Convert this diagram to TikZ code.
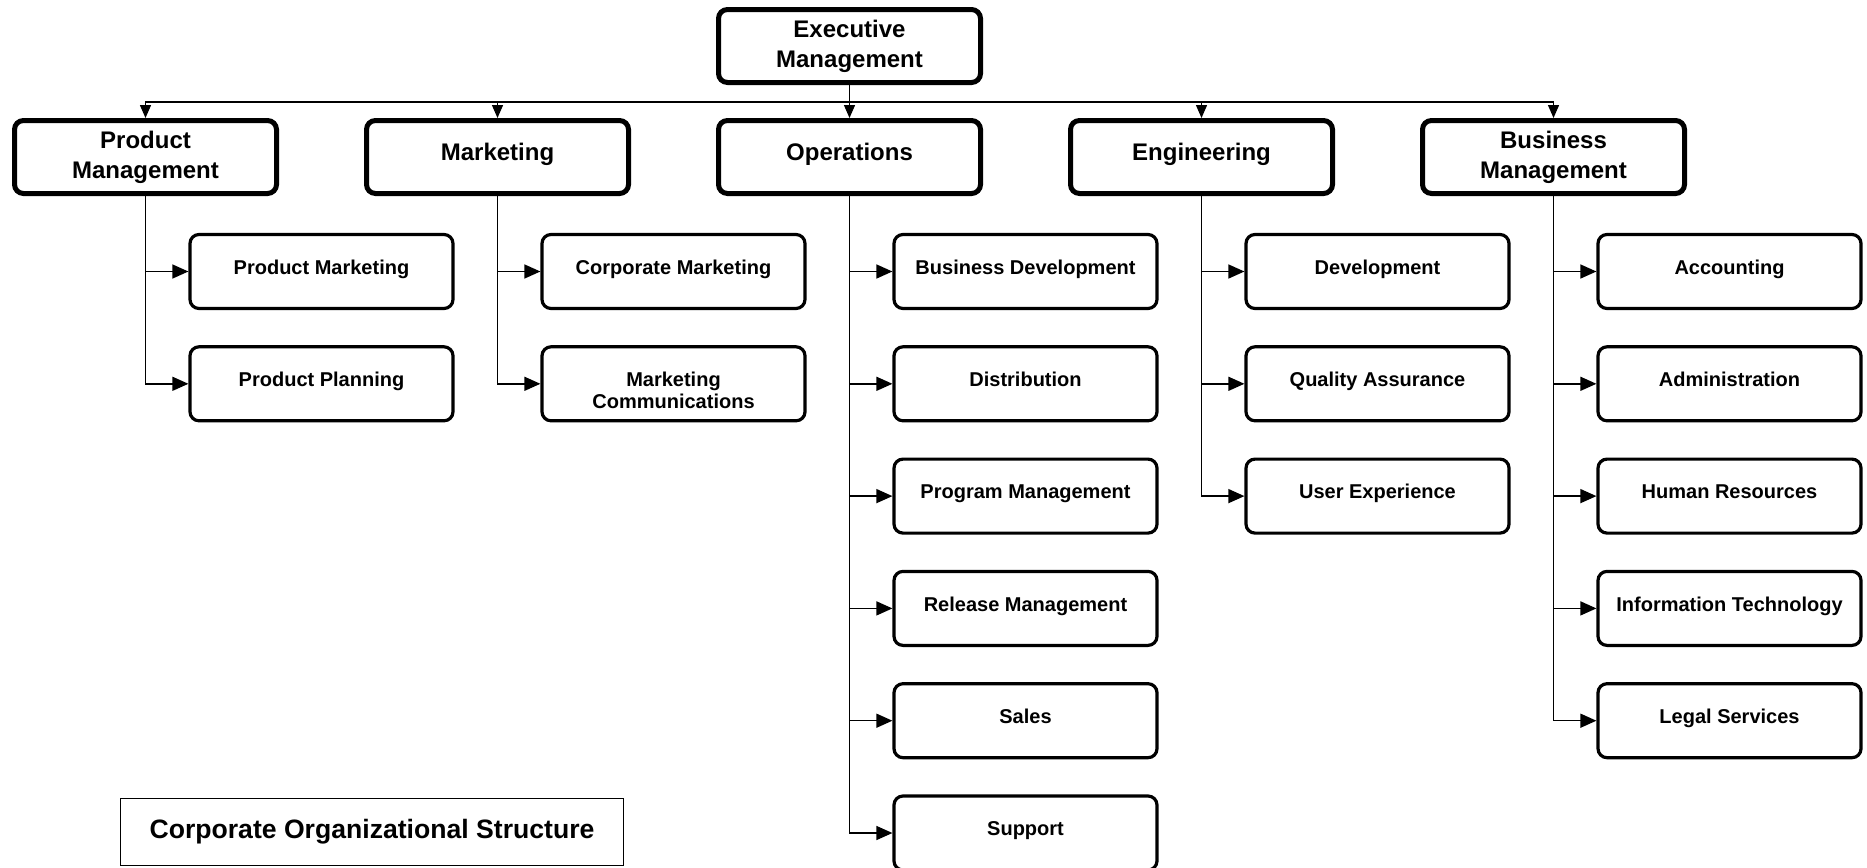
\documentclass[tikz,border=0pt]{standalone}
\usepackage{fontspec}
\setmainfont{Liberation Sans}
\usetikzlibrary{arrows.meta}

\begin{document}
\begin{tikzpicture}[x=0.5pt,y=-0.5pt,
  unitbox/.style={draw, fill=white, rounded corners=4.5pt, inner sep=0pt},
  dept/.style={unitbox, line width=2.5pt, minimum width=131pt, minimum height=36.5pt,
    font=\fontsize{12}{14.9}\selectfont\bfseries},
  deptone/.style={dept, text height=9pt, text depth=5.4pt},
  depttwo/.style={dept, align=center},
  team/.style={unitbox, line width=1.6pt, minimum width=131.5pt, minimum height=37pt,
    font=\fontsize{10}{11.35}\selectfont\bfseries},
  teamone/.style={team, text height=8pt, text depth=5.2pt},
  caption/.style={draw, fill=white, line width=0.7pt, inner sep=0pt,
    minimum width=251.4pt, minimum height=33.3pt,
    font=\fontsize{13.3}{16}\selectfont\bfseries},
  link/.style={line width=0.7pt},
  down/.style={link, -{Triangle[length=6.5pt,width=5.5pt]}},
  side/.style={link, -{Triangle[length=8pt,width=7pt]}},
]
% page area
\fill[white] (0,0) rectangle (1867,867);
\useasboundingbox (0,0) rectangle (1867,867);

% top level
\node[depttwo] (exec) at (849.5,46) {Executive\\Management};

% departments
\node[depttwo] (prodmgmt) at (145.5,157) {Product\\Management};
\node[deptone] (mkt) at (497.5,157) {Marketing};
\node[deptone] (ops) at (849.5,157) {Operations};
\node[deptone] (eng) at (1201.5,157) {Engineering};
\node[depttwo] (bizmgmt) at (1553.5,157) {Business\\Management};

% product management teams
\node[teamone] (prodmkt) at (321.5,271.5) {Product Marketing};
\node[teamone] (prodplan) at (321.5,383.8) {Product Planning};

% marketing teams
\node[teamone] (corpmkt) at (673.5,271.5) {Corporate Marketing};
\node[team] (mktcomm) at (673.5,383.8)
  {\raisebox{-4.6pt}[\height][\depth]{\begin{tabular}{@{}c@{}}Marketing\\Communications\end{tabular}}};

% operations teams
\node[teamone] (bizdev) at (1025.5,271.5) {Business Development};
\node[teamone] (distrib) at (1025.5,383.8) {Distribution};
\node[teamone] (progmgmt) at (1025.5,496.1) {Program Management};
\node[teamone] (relmgmt) at (1025.5,608.4) {Release Management};
\node[teamone] (sales) at (1025.5,720.7) {Sales};
\node[teamone] (support) at (1025.5,833) {Support};

% engineering teams
\node[teamone] (dev) at (1377.5,271.5) {Development};
\node[teamone] (qa) at (1377.5,383.8) {Quality Assurance};
\node[teamone] (ux) at (1377.5,496.1) {User Experience};

% business management teams
\node[teamone] (acct) at (1729.5,271.5) {Accounting};
\node[teamone] (admin) at (1729.5,383.8) {Administration};
\node[teamone] (hr) at (1729.5,496.1) {Human Resources};
\node[teamone] (it) at (1729.5,608.4) {Information Technology};
\node[teamone] (legal) at (1729.5,720.7) {Legal Services};

% caption
\node[caption] (title) at (372,832) {Corporate Organizational Structure};

% executive bus to departments
\coordinate (bus) at (0,102);
\foreach \d in {prodmgmt,mkt,ops,eng,bizmgmt}
  \draw[down] (exec.south) -- (exec.south |- bus) -| (\d.north);

% departments to teams
\foreach \t in {prodmkt,prodplan}
  \draw[side] (prodmgmt.south) |- (\t.west);
\foreach \t in {corpmkt,mktcomm}
  \draw[side] (mkt.south) |- (\t.west);
\foreach \t in {bizdev,distrib,progmgmt,relmgmt,sales,support}
  \draw[side] (ops.south) |- (\t.west);
\foreach \t in {dev,qa,ux}
  \draw[side] (eng.south) |- (\t.west);
\foreach \t in {acct,admin,hr,it,legal}
  \draw[side] (bizmgmt.south) |- (\t.west);
\end{tikzpicture}
\end{document}
